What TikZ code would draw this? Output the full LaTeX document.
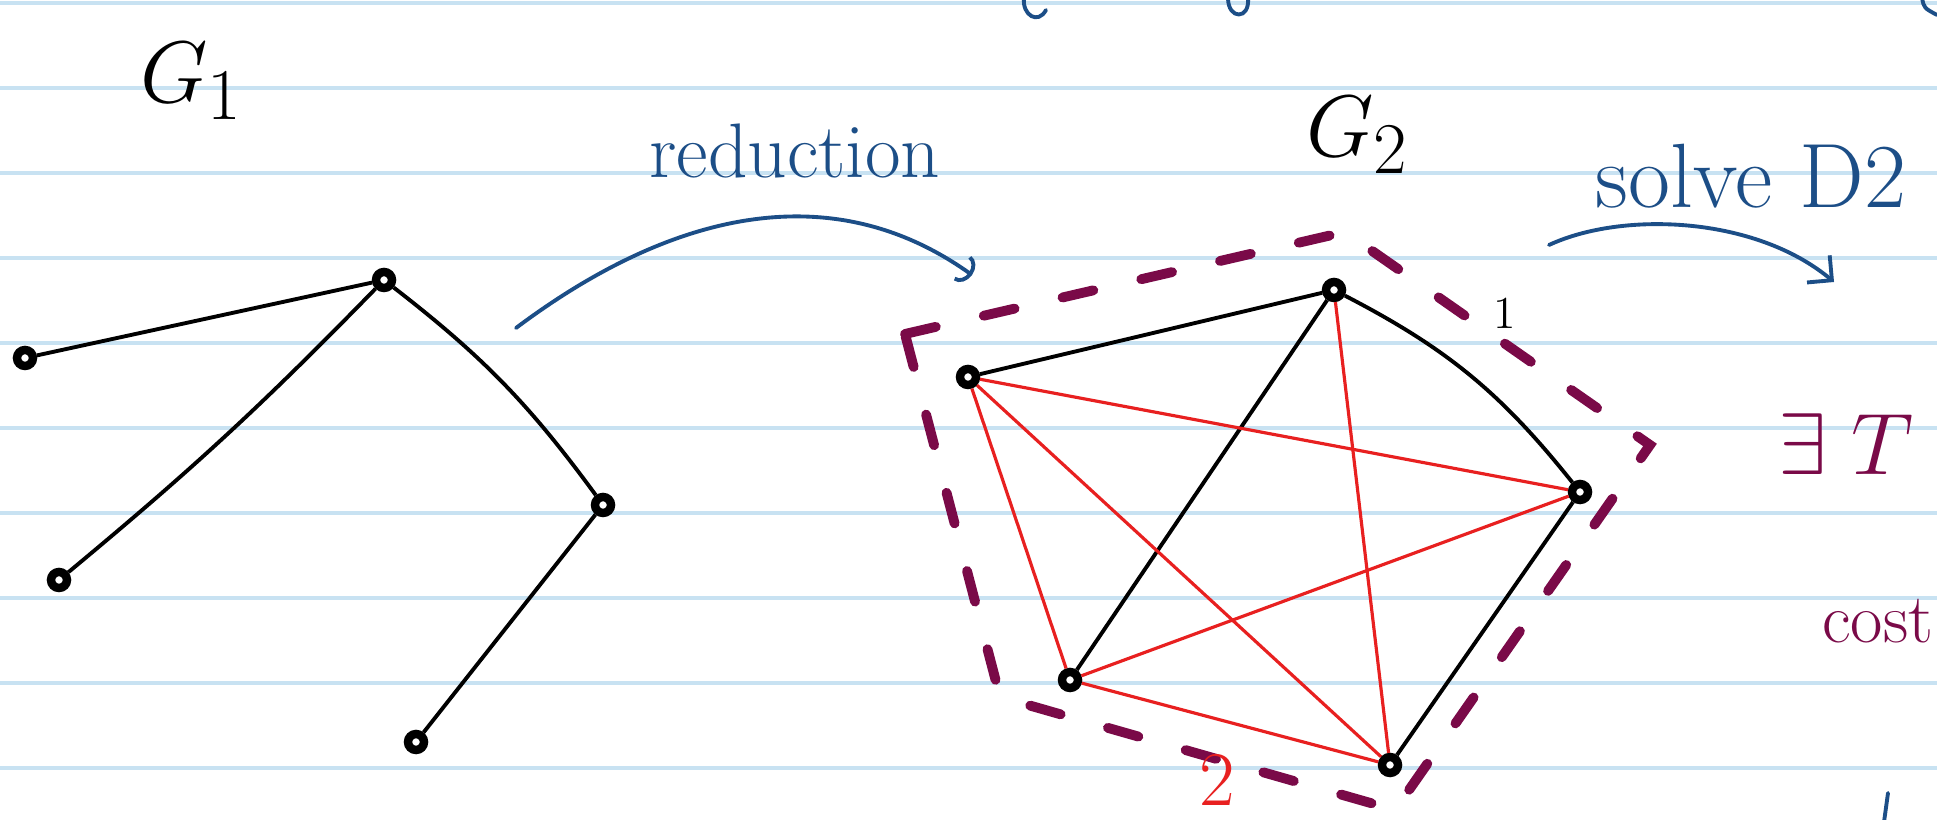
\documentclass[tikz,border=0pt]{standalone}
\usepackage{amsmath,amssymb}
\usepackage{tikz}
\usetikzlibrary{arrows.meta, positioning}

\definecolor{paperline}{RGB}{200,226,242}
\definecolor{inkblue}{RGB}{28,78,135}
\definecolor{inkred}{RGB}{232,32,32}
\definecolor{inkplum}{RGB}{122,10,72}

\begin{document}
\begin{tikzpicture}[>=Stealth,
		vertex/.style={circle, draw=black, fill=white, line width=2.4pt, inner sep=0pt, minimum size=1.6mm},
		edge/.style={line width=1.1pt, black},
		extra/.style={line width=0.9pt, inkred},
		hull/.style={inkplum, line width=2.8pt, line cap=round, dash pattern=on 9pt off 14pt},
		ink/.style={inkblue, line width=1.1pt, line cap=round}]
		
		% Folha pautada
		\useasboundingbox (0,0) rectangle (19.37,8.20);
		\fill[white] (0,0) rectangle (19.37,8.20);
		\foreach \y in {8.17,7.32,6.47,5.62,4.77,3.92,3.07,2.22,1.37,0.52}
			\draw[paperline, line width=1pt] (0,\y) -- (19.37,\y);
		
		% Restos de escrita nas margens
		\draw[ink] (10.24,8.22) .. controls (10.22,8.05) and (10.38,7.95) .. (10.46,8.10);
		\draw[ink] (12.28,8.22) .. controls (12.28,8.00) and (12.50,8.00) .. (12.48,8.22);
		\draw[ink] (19.22,8.22) .. controls (19.24,8.12) .. (19.37,8.05);
		\draw[ink] (18.88,0.27) -- (18.84,-0.02);
		
		% Titulos
		\node[anchor=base west, font=\fontsize{28}{32}\selectfont] (g1_t) at (1.28, 7.17) {$G_1$};
		\node[anchor=base west, font=\fontsize{28}{32}\selectfont] (g2_t) at (12.94, 6.63) {$G_2$};
		\node[anchor=base west, inkblue, font=\fontsize{22}{26}\selectfont] (red_t) at (6.37, 6.42) {reduction};
		\node[anchor=base west, inkblue, font=\fontsize{26}{30}\selectfont] (slv_t) at (15.83, 6.12) {solve D2};
		\node[anchor=base west, inkplum, font=\fontsize{30}{34}\selectfont] (ex_t) at (17.66, 3.45) {$\exists\; T$};
		\node[anchor=base west, inkplum, font=\fontsize{20}{24}\selectfont] (cost_t) at (18.10, 1.77) {cost};
		
		% Contorno de G2
		\draw[hull] (9.05,4.86) -- (13.45,5.88) -- (16.50,3.75) -- (13.95,0.10) -- (10.00,1.23) -- cycle;
		
		% Grafo G1
		\node[vertex] (v1) at (3.84, 5.40) {};
		\node[vertex] (v2) at (0.25, 4.62) {};
		\node[vertex] (v3) at (0.59, 2.40) {};
		\node[vertex] (v4) at (6.03, 3.15) {};
		\node[vertex] (v5) at (4.16, 0.78) {};
		
		% Grafo G2
		\node[vertex] (w1) at (13.34, 5.30) {};
		\node[vertex] (w2) at (9.68, 4.43) {};
		\node[vertex] (w3) at (15.80, 3.28) {};
		\node[vertex] (w4) at (10.70, 1.40) {};
		\node[vertex] (w5) at (13.90, 0.55) {};
		
		% Arestas de G1
		\draw[edge] (v2) -- (v1);
		\draw[edge] (v1) to[bend left=3] (v3);
		\draw[edge] (v1) to[bend left=8] (v4);
		\draw[edge] (v4) -- (v5);
		
		% Arestas de G2 (arvore)
		\draw[edge] (w2) -- (w1);
		\draw[edge] (w1) -- (w4);
		\draw[edge] (w1) to[bend left=12] (w3);
		\draw[edge] (w3) -- (w5);
		
		% Arestas completadas
		\draw[extra] (w2) -- (w3);
		\draw[extra] (w2) -- (w5);
		\draw[extra] (w2) -- (w4);
		\draw[extra] (w1) -- (w5);
		\draw[extra] (w4) -- (w3);
		\draw[extra] (w4) -- (w5);
		
		% Pesos
		\node[font=\fontsize{13}{15}\selectfont] (wt1) at (15.05, 5.07) {1};
		\node[inkred, font=\fontsize{22}{26}\selectfont] (wt2) at (12.17, 0.40) {2};
		
		% Setas
		\coordinate (red_s) at (5.16, 4.92);
		\coordinate (red_e) at (9.72, 5.45);
		\draw[ink, -{Arc Barb[length=1.2mm, width=3mm]}] (red_s) .. controls (6.60,6.00) and (8.24,6.51) .. (red_e);
		\coordinate (slv_s) at (15.49, 5.75);
		\coordinate (slv_e) at (18.34, 5.38);
		\draw[ink, -{Straight Barb[angle=90:2.5mm]}] (slv_s) .. controls (16.22,6.09) and (17.55,6.04) .. (slv_e);
	\end{tikzpicture}
\end{document}
